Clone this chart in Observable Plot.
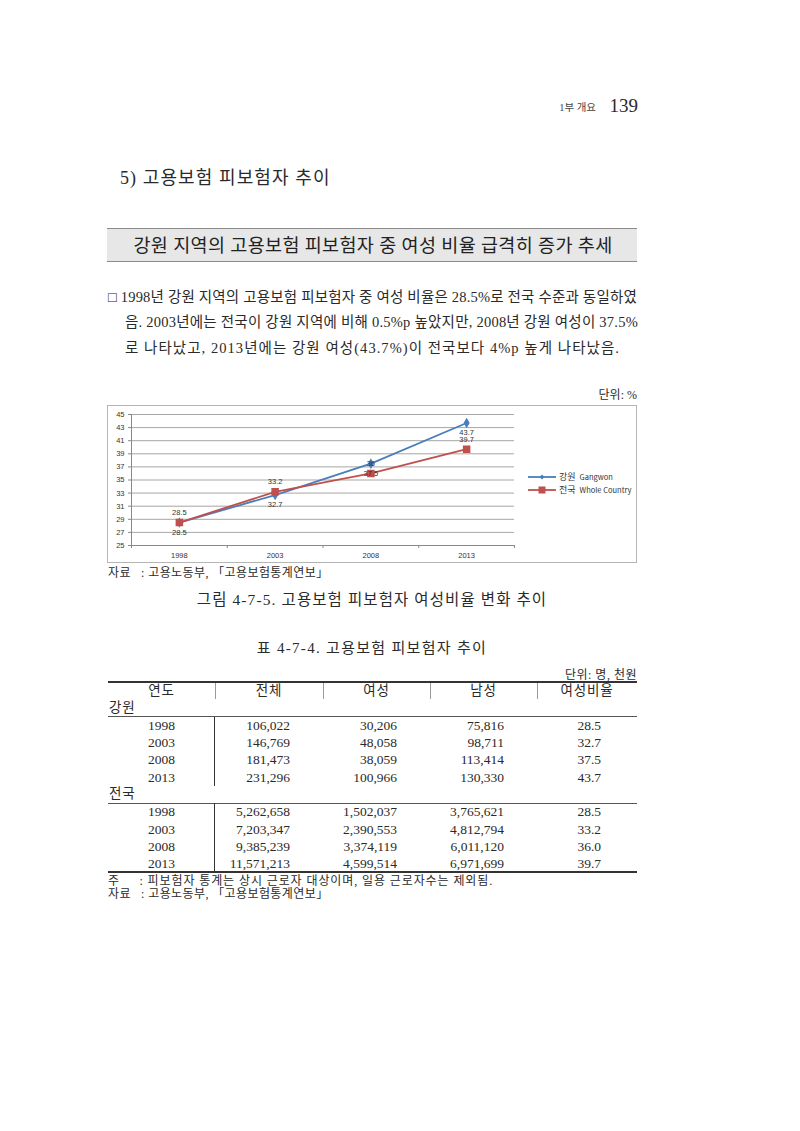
<!DOCTYPE html>
<html><head><meta charset="utf-8">
<script src="https://cdn.jsdelivr.net/npm/d3@7"></script>
<script src="https://cdn.jsdelivr.net/npm/@observablehq/plot@0.6"></script>
<style>
body{margin:0;background:#fff;}
#page{position:relative;width:800px;height:1131px;overflow:hidden;font-family:"Liberation Serif","Noto Sans CJK KR",serif;color:#2a2a2a;}
.t{position:absolute;white-space:pre;line-height:1;}
.hl{position:absolute;height:0;}
.vl{position:absolute;width:0;}
#chartbox{position:absolute;left:107px;top:405px;width:528px;height:156px;border:1px solid #b5b5b5;background:#fff;}
#chartbox > svg.chart{position:absolute;left:0;top:0;}
.lg{position:absolute;font-family:"Noto Sans CJK KR","Liberation Sans",sans-serif;font-size:7.5px;color:#333;white-space:nowrap;line-height:1;display:flex;align-items:center;}
.lg svg{display:block;}
</style></head><body><div id="page"></div>
<script>
// ---------- chart data ----------
const years = ["1998", "2003", "2008", "2013"];
const gangwonRatio = [28.5, 32.7, 37.5, 43.7];
const nationRatio = [28.5, 33.2, 36.0, 39.7];
const seriesNames = ["강원 Gangwon", "전국 Whole Country"];
const yTicks = [25, 27, 29, 31, 33, 35, 37, 39, 41, 43, 45];

// ---------- table data ----------
const tableHeaders = ["연도", "전체", "여성", "남성", "여성비율"];
const groups = ["강원", "전국"];
const gangwonTotal = [106022, 146769, 181473, 231296];
const gangwonFemale = [30206, 48058, 38059, 100966];
const gangwonMale = [75816, 98711, 113414, 130330];
const nationTotal = [5262658, 7203347, 9385239, 11571213];
const nationFemale = [1502037, 2390553, 3374119, 4599514];
const nationMale = [3765621, 4812794, 6011120, 6971699];

// ---------- texts ----------
const pageHeadSmall = "1부 개요";
const pageNumber = "139";
const sectionTitle = "5) 고용보험 피보험자 추이";
const boxTitle = "강원 지역의 고용보험 피보험자 중 여성 비율 급격히 증가 추세";
const paraLines = [
  "□ 1998년 강원 지역의 고용보험 피보험자 중 여성 비율은 28.5%로 전국 수준과 동일하였",
  "음. 2003년에는 전국이 강원 지역에 비해 0.5%p 높았지만, 2008년 강원 여성이 37.5%",
  "로 나타났고, 2013년에는 강원 여성(43.7%)이 전국보다 4%p 높게 나타났음."
];
const unitChart = "단위: %";
const chartSource = "자료   : 고용노동부, 「고용보험통계연보」";
const figCaption = "그림 4-7-5. 고용보험 피보험자 여성비율 변화 추이";
const tableTitle = "표 4-7-4. 고용보험 피보험자 추이";
const unitTable = "단위: 명, 천원";
const noteLines = ["주     : 피보험자 통계는 상시 근로자 대상이며, 일용 근로자수는 제외됨.", "자료   : 고용노동부, 「고용보험통계연보」"];

const page = document.getElementById("page");
function txt(x, y, s, size, align = "left", extra = {}) {
  const d = document.createElement("div");
  d.className = "t";
  d.textContent = s;
  d.style.left = x + "px";
  d.style.top = y + "px";
  d.style.fontSize = size + "px";
  const tx = align === "center" ? "-50%" : align === "right" ? "-100%" : "0";
  d.style.transform = `translate(${tx},-50%)`;
  Object.assign(d.style, extra);
  page.appendChild(d);
  return d;
}
// spread a single line of text to a given width by letter-spacing
function fitWidth(d, target) {
  d.style.letterSpacing = "0px";
  const w = d.getBoundingClientRect().width;
  const n = [...d.textContent].length;
  d.style.letterSpacing = ((target - w) / n) + "px";
}
function hline(x1, x2, y, w, c) {
  const d = document.createElement("div");
  d.className = "hl";
  d.style.left = x1 + "px"; d.style.width = (x2 - x1) + "px";
  d.style.top = (y - w / 2) + "px"; d.style.borderTop = `${w}px solid ${c}`;
  page.appendChild(d);
}
function vline(x, y1, y2, w, c) {
  const d = document.createElement("div");
  d.className = "vl";
  d.style.top = y1 + "px"; d.style.height = (y2 - y1) + "px";
  d.style.left = (x - w / 2) + "px"; d.style.borderLeft = `${w}px solid ${c}`;
  page.appendChild(d);
}

// header
txt(596, 108, pageHeadSmall, 10.5, "right", {color: "#444"});
txt(638, 105, pageNumber, 19, "right");
// section
txt(120, 178, sectionTitle, 18, "left", {letterSpacing: "1.1px"});
// box
const box = document.createElement("div");
Object.assign(box.style, {position: "absolute", left: "107px", top: "228px", width: "530px", height: "32px", background: "#e7e7e7", borderTop: "1.5px solid #8a8a8a", borderBottom: "1.5px solid #8a8a8a"});
page.appendChild(box);
txt(373, 246, boxTitle, 18.5, "center", {color: "#222", letterSpacing: "0.35px"});
// paragraph
const paraX = [108, 125, 125];
const paraY = [297, 322, 348];
const paraW = [529, 513, 495];
paraLines.forEach((s, i) => {
  const d = txt(paraX[i], paraY[i], s, 14.5, "left");
  fitWidth(d, paraW[i]);
});
txt(637, 395, unitChart, 12, "right");

// chart
const cb = document.createElement("div");
cb.id = "chartbox";
page.appendChild(cb);
const rows = [];
years.forEach((y, i) => {
  rows.push({series: seriesNames[0], i, year: y, v: gangwonRatio[i]});
  rows.push({series: seriesNames[1], i, year: y, v: nationRatio[i]});
});
const colors = ["#4a7ebb", "#c0504d"];
const chart = Plot.plot({
  width: 528, height: 156,
  marginLeft: 23, marginRight: 122, marginTop: 8, marginBottom: 17,
  style: {fontFamily: "'Liberation Sans','Noto Sans CJK KR',sans-serif", fontSize: "7.5px", color: "#333", background: "transparent"},
  x: {type: "linear", domain: [0, years.length], label: null},
  y: {domain: [25, 45], label: null},
  color: {domain: seriesNames, range: colors},
  marks: [
    Plot.gridY(yTicks, {stroke: "#a6a6a6", strokeOpacity: 1, strokeWidth: 1}),
    Plot.axisY({ticks: yTicks, tickSize: 3, tickPadding: 4, stroke: "#888", fill: "#333", label: null}),
    Plot.axisX({ticks: d3.range(years.length + 1), tickSize: 3, tickFormat: () => "", stroke: "#888", label: null}),
    Plot.axisX({ticks: years.map((_, i) => i + 0.5), tickSize: 0, tickPadding: 7, tickFormat: (d) => years[Math.floor(d)], fill: "#333", label: null}),
    Plot.ruleY([25], {stroke: "#888"}),
    Plot.ruleX([0], {stroke: "#888"}),
    Plot.line(rows, {x: (d) => d.i + 0.5, y: "v", z: "series", stroke: "series", strokeWidth: 1.8}),
    Plot.dot(rows.filter((d) => d.series === seriesNames[0]), {x: (d) => d.i + 0.5, y: "v", symbol: "diamond", r: 2.3, fill: colors[0], stroke: colors[0]}),
    Plot.dot(rows.filter((d) => d.series === seriesNames[1]), {x: (d) => d.i + 0.5, y: "v", symbol: "square", r: 3.4, fill: colors[1], stroke: colors[1]}),
    Plot.text(rows.filter((d) => d.series === seriesNames[0]), {x: (d) => d.i + 0.5, y: "v", text: (d) => String(d.v), dy: 10, fill: "#333"}),
    Plot.text(rows.filter((d) => d.series === seriesNames[1]), {x: (d) => d.i + 0.5, y: "v", text: (d) => String(d.v), dy: -10, fill: "#333"})
  ]
});
chart.classList.add("chart");
cb.appendChild(chart);
// legend
seriesNames.forEach((name, k) => {
  const lg = document.createElement("div");
  lg.className = "lg";
  lg.style.left = "419px";
  lg.style.top = (66 + k * 13) + "px";
  const sym = k === 0
    ? `<svg width="30" height="8"><line x1="1" y1="4" x2="29" y2="4" stroke="${colors[0]}" stroke-width="1.8"/><path d="M15,1.5L17.5,4L15,6.5L12.5,4Z" fill="${colors[0]}"/></svg>`
    : `<svg width="30" height="8"><line x1="1" y1="4" x2="29" y2="4" stroke="${colors[1]}" stroke-width="1.8"/><rect x="11.5" y="0.5" width="7" height="7" fill="${colors[1]}"/></svg>`;
  const [ko, en] = [name.split(" ")[0], name.split(" ").slice(1).join(" ")];
  lg.innerHTML = sym + `<span style="font-size:9px;margin-left:2px;">${ko}</span><span style="margin-left:4px;">${en}</span>`;
  cb.appendChild(lg);
});

txt(108, 573, chartSource, 12, "left", {letterSpacing: "0.4px"});
txt(372, 600, figCaption, 15.5, "center", {letterSpacing: "1.1px"});

// table
txt(372, 648, tableTitle, 15, "center", {letterSpacing: "1.3px"});
txt(637, 675, unitTable, 12, "right", {letterSpacing: "0.5px"});
const tL = 108, tR = 637;
const colEdges = [108, 215, 323, 430, 537, 637];
const rowH = 17.3;
const y0 = 682;
hline(tL, tR, y0, 2, "#333");
const headCy = y0 + rowH / 2;
tableHeaders.forEach((h, c) => txt((colEdges[c] + colEdges[c + 1]) / 2, headCy + 0.5, h, 13.5, "center", {letterSpacing: "0.8px"}));
for (let c = 1; c < 5; c++) vline(colEdges[c], y0 + 1, y0 + rowH, 1, "#9a9a9a");
const fmt = d3.format(",");
const fmt1 = d3.format(".1f");
const groupData = [
  [gangwonTotal, gangwonFemale, gangwonMale, gangwonRatio],
  [nationTotal, nationFemale, nationMale, nationRatio]
];
let yCur = y0 + rowH;
groupData.forEach((g, gi) => {
  txt(109, yCur + rowH / 2, groups[gi], 13.5, "left", {letterSpacing: "0.8px"});
  yCur += rowH;
  hline(tL, tR, yCur, 1, "#555");
  const top = yCur;
  years.forEach((yr, r) => {
    const cy = yCur + rowH / 2 + 0.5;
    txt((colEdges[0] + colEdges[1]) / 2, cy, yr, 13.5, "center");
    const vals = [fmt(g[0][r]), fmt(g[1][r]), fmt(g[2][r]), fmt1(g[3][r])];
    vals.forEach((v, c) => txt(colEdges[c + 2] - (c === 3 ? 36 : 33), cy, v, 13.5, "right"));
    yCur += rowH;
  });
  vline(colEdges[1], top, yCur - (gi === 1 ? 1 : 0), 1.3, "#333");
});
hline(tL, tR, yCur, 2, "#333");
txt(108, yCur + 8.5, noteLines[0], 12, "left", {letterSpacing: "0.9px"});
txt(108, yCur + 21.5, noteLines[1], 12, "left", {letterSpacing: "0.4px"});
</script></body></html>
